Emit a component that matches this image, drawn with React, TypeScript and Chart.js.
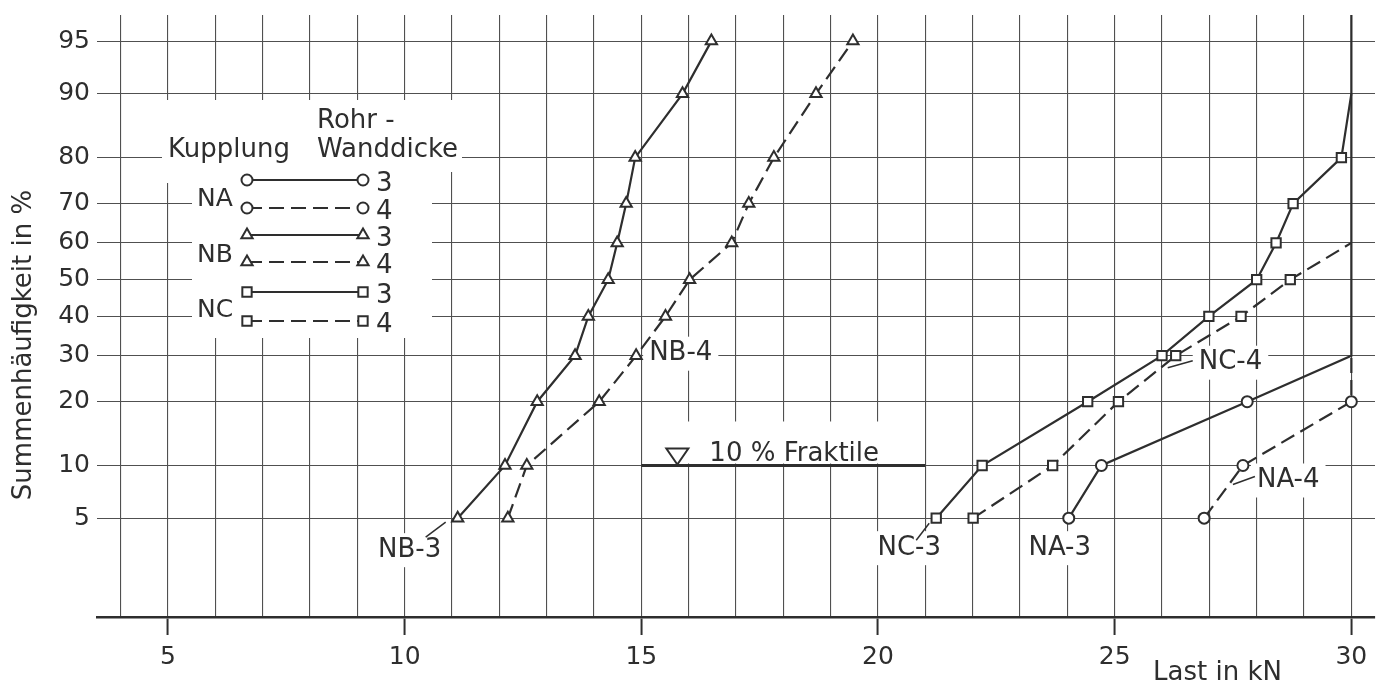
import React, { useEffect, useRef } from "react";
import { Chart, registerables } from "chart.js";

Chart.register(...registerables);

// ---------------- data ----------------
const LOAD_GRID = [4, 5, 6, 7, 8, 9, 10, 11, 12, 13, 14, 15, 16, 17, 18, 19, 20, 21, 22, 23, 24, 25, 26, 27, 28, 29, 30];
const LOAD_LABELS = [5, 10, 15, 20, 25, 30];
const PERCENT_TICKS = [5, 10, 20, 30, 40, 50, 60, 70, 80, 90, 95];
const LOAD_MIN = 3.5;
const LOAD_MAX = 30.5;
const PERCENT_MIN = 1;
const PERCENT_MAX = 96.6;

// NA coupling
const NA3_LOAD = [24.03, 24.72, 27.8, 30, 30];
const NA3_PERCENT = [5, 10, 20, 30, 96.6];
const NA3_MEASURED = 3;
const NA4_LOAD = [26.89, 27.71, 30, 30];
const NA4_PERCENT = [5, 10, 20, 30];
const NA4_MEASURED = 3;
// NB coupling
const NB_PERCENT = [5, 10, 20, 30, 40, 50, 60, 70, 80, 90, 95];
const NB3_LOAD = [11.12, 12.12, 12.8, 13.6, 13.88, 14.3, 14.49, 14.68, 14.87, 15.87, 16.48];
const NB4_LOAD = [12.18, 12.58, 14.11, 14.89, 15.51, 16.02, 16.91, 17.27, 17.8, 18.69, 19.47];
// NC coupling
const NC3_LOAD = [21.23, 22.2, 24.43, 26.0, 26.99, 28.0, 28.41, 28.77, 29.79, 30];
const NC3_PERCENT = [5, 10, 20, 30, 40, 50, 60, 70, 80, 90];
const NC3_MEASURED = 9;
const NC4_LOAD = [22.01, 23.69, 25.08, 26.29, 27.67, 28.71, 30];
const NC4_PERCENT = [5, 10, 20, 30, 40, 50, 60];
const NC4_MEASURED = 6;

// 10 % fractile
const FRACTILE_PERCENT = 10;
const FRACTILE_FROM = 15;
const FRACTILE_TO = 21;

// ---------------- style ----------------
const INK = "#2e2e2e";
const GRID = "#505050";
const FAMILY = "'DejaVu Sans', 'Noto Sans', sans-serif";
const DASH = [15, 7];

// inverse normal CDF (probability paper)
function probit(p: number): number {
  const a = [-3.969683028665376e1, 2.209460984245205e2, -2.759285104469687e2, 1.38357751867269e2, -3.066479806614716e1, 2.506628277459239];
  const b = [-5.447609879822406e1, 1.615858368580409e2, -1.556989798598866e2, 6.680131188771972e1, -1.328068155288572e1];
  const c = [-7.784894002430293e-3, -3.223964580411365e-1, -2.400758277161838, -2.549732539343734, 4.374664141464968, 2.938163982698783];
  const d = [7.784695709041462e-3, 3.224671290700398e-1, 2.445134137142996, 3.754408661907416];
  const pl = 0.02425;
  if (p < pl) {
    const q = Math.sqrt(-2 * Math.log(p));
    return (((((c[0] * q + c[1]) * q + c[2]) * q + c[3]) * q + c[4]) * q + c[5]) / ((((d[0] * q + d[1]) * q + d[2]) * q + d[3]) * q + 1);
  }
  if (p > 1 - pl) {
    const q = Math.sqrt(-2 * Math.log(1 - p));
    return -(((((c[0] * q + c[1]) * q + c[2]) * q + c[3]) * q + c[4]) * q + c[5]) / ((((d[0] * q + d[1]) * q + d[2]) * q + d[3]) * q + 1);
  }
  const q = p - 0.5;
  const r = q * q;
  return ((((((a[0] * r + a[1]) * r + a[2]) * r + a[3]) * r + a[4]) * r + a[5]) * q) / (((((b[0] * r + b[1]) * r + b[2]) * r + b[3]) * r + b[4]) * r + 1);
}
const z = (percent: number) => probit(percent / 100);

type Series = {
  group: string;
  wall: string;
  load: number[];
  percent: number[];
  measured: number;
  marker: "circle" | "triangle" | "rect";
  radius: number;
  dashed: boolean;
};

const SERIES: Series[] = [
  { group: "NA", wall: "3", load: NA3_LOAD, percent: NA3_PERCENT, measured: NA3_MEASURED, marker: "circle", radius: 5.5, dashed: false },
  { group: "NA", wall: "4", load: NA4_LOAD, percent: NA4_PERCENT, measured: NA4_MEASURED, marker: "circle", radius: 5.5, dashed: true },
  { group: "NB", wall: "3", load: NB3_LOAD, percent: NB_PERCENT, measured: NB_PERCENT.length, marker: "triangle", radius: 6.5, dashed: false },
  { group: "NB", wall: "4", load: NB4_LOAD, percent: NB_PERCENT, measured: NB_PERCENT.length, marker: "triangle", radius: 6.5, dashed: true },
  { group: "NC", wall: "3", load: NC3_LOAD, percent: NC3_PERCENT, measured: NC3_MEASURED, marker: "rect", radius: 6.6, dashed: false },
  { group: "NC", wall: "4", load: NC4_LOAD, percent: NC4_PERCENT, measured: NC4_MEASURED, marker: "rect", radius: 6.6, dashed: true },
];

type Label = { text: string; s: number; i: number; dx: number; dy: number; align: "left" | "center"; leader?: number[] };
const LABELS: Label[] = [
  { text: "NB-3", s: 2, i: 0, dx: -48, dy: 32, align: "center", leader: [-32, 19, -12, 4] },
  { text: "NB-4", s: 3, i: 3, dx: 13, dy: -2, align: "left" },
  { text: "NC-4", s: 5, i: 3, dx: 23, dy: 7, align: "left", leader: [-8, 12, 17, 5] },
  { text: "NC-3", s: 4, i: 0, dx: -27, dy: 30, align: "center", leader: [-20, 22, -7, 5] },
  { text: "NA-3", s: 0, i: 0, dx: -9, dy: 30, align: "center" },
  { text: "NA-4", s: 1, i: 1, dx: 14, dy: 15, align: "left", leader: [-10, 19, 12, 11] },
];

const LEGEND_MASK = [
  [162, 100], [462, 100], [462, 172], [432, 172], [432, 338], [192, 338], [192, 183], [162, 183],
];
const LEGEND_ROWS_Y = [180, 208, 235, 262, 292, 321];

function drawMarker(ctx: CanvasRenderingContext2D, style: string, x: number, y: number, r: number) {
  ctx.save();
  ctx.setLineDash([]);
  ctx.fillStyle = "#fff";
  ctx.strokeStyle = INK;
  ctx.lineWidth = 2;
  ctx.beginPath();
  if (style === "circle") {
    ctx.arc(x, y, r, 0, Math.PI * 2);
  } else if (style === "triangle") {
    const h = r * 0.5;
    ctx.moveTo(x, y - r);
    ctx.lineTo(x + r * Math.sin(Math.PI / 3), y + h);
    ctx.lineTo(x - r * Math.sin(Math.PI / 3), y + h);
    ctx.closePath();
  } else {
    const s = r * Math.SQRT1_2;
    ctx.rect(x - s, y - s, 2 * s, 2 * s);
  }
  ctx.fill();
  ctx.stroke();
  ctx.restore();
}

function labelGeom(chart: any, ctx: CanvasRenderingContext2D, l: Label) {
  const s = SERIES[l.s];
  const ax = chart.scales.x.getPixelForValue(s.load[l.i]);
  const ay = chart.scales.y.getPixelForValue(z(s.percent[l.i]));
  ctx.font = `26px ${FAMILY}`;
  const w = ctx.measureText(l.text).width;
  const left = l.align === "center" ? ax + l.dx - w / 2 : ax + l.dx;
  return { ax, ay, left, cy: ay + l.dy, w };
}

const drawingPlugin = {
  id: "drawing",
  beforeDatasetsDraw(chart: any) {
    const ctx: CanvasRenderingContext2D = chart.ctx;
    const xs = chart.scales.x;
    const ys = chart.scales.y;
    ctx.save();
    ctx.fillStyle = "#fff";
    ctx.beginPath();
    LEGEND_MASK.forEach(([x, y], i) => (i ? ctx.lineTo(x, y) : ctx.moveTo(x, y)));
    ctx.closePath();
    ctx.fill();
    const fy = ys.getPixelForValue(z(FRACTILE_PERCENT));
    const f0 = xs.getPixelForValue(FRACTILE_FROM);
    const f1 = xs.getPixelForValue(FRACTILE_TO);
    ctx.fillRect(f0 + 3, fy - 44, f1 - f0 - 6, 42);
    for (const l of LABELS) {
      const g = labelGeom(chart, ctx, l);
      ctx.fillStyle = "#fff";
      ctx.fillRect(g.left - 6, g.cy - 17, g.w + 12, 34);
    }
    ctx.restore();
  },
  afterDraw(chart: any) {
    const ctx: CanvasRenderingContext2D = chart.ctx;
    const xs = chart.scales.x;
    const ys = chart.scales.y;
    ctx.save();
    ctx.fillStyle = INK;
    ctx.strokeStyle = INK;

    // fractile
    const fy = ys.getPixelForValue(z(FRACTILE_PERCENT));
    const f0 = xs.getPixelForValue(FRACTILE_FROM);
    const f1 = xs.getPixelForValue(FRACTILE_TO);
    ctx.lineWidth = 3;
    ctx.beginPath();
    ctx.moveTo(f0, fy);
    ctx.lineTo(f1, fy);
    ctx.stroke();
    const tx = f0 + 36;
    ctx.lineWidth = 2;
    ctx.beginPath();
    ctx.moveTo(tx, fy - 1);
    ctx.lineTo(tx - 11, fy - 17);
    ctx.lineTo(tx + 11, fy - 17);
    ctx.closePath();
    ctx.stroke();
    ctx.font = `26px ${FAMILY}`;
    ctx.textAlign = "left";
    ctx.textBaseline = "alphabetic";
    ctx.fillText("10 % Fraktile", f0 + 68, fy - 4);

    // labels
    for (const l of LABELS) {
      const g = labelGeom(chart, ctx, l);
      ctx.textBaseline = "middle";
      ctx.textAlign = "left";
      ctx.fillText(l.text, g.left, g.cy);
      if (l.leader) {
        ctx.lineWidth = 1.5;
        ctx.beginPath();
        ctx.moveTo(g.ax + l.leader[0], g.ay + l.leader[1]);
        ctx.lineTo(g.ax + l.leader[2], g.ay + l.leader[3]);
        ctx.stroke();
      }
    }

    // legend
    ctx.textBaseline = "alphabetic";
    ctx.textAlign = "left";
    ctx.font = `26px ${FAMILY}`;
    ctx.fillText("Rohr -", 317, 128);
    ctx.fillText("Kupplung", 168, 157);
    ctx.fillText("Wanddicke", 317, 157);
    const groupY: Record<string, number> = { NA: 206, NB: 262, NC: 317 };
    ctx.font = `25px ${FAMILY}`;
    Object.keys(groupY).forEach((k) => ctx.fillText(k, 197, groupY[k]));
    SERIES.forEach((s, i) => {
      const y = LEGEND_ROWS_Y[i];
      ctx.lineWidth = 2.2;
      ctx.setLineDash(s.dashed ? DASH : []);
      ctx.beginPath();
      ctx.moveTo(247, y);
      ctx.lineTo(363, y);
      ctx.stroke();
      ctx.setLineDash([]);
      drawMarker(ctx, s.marker, 247, y, s.radius);
      drawMarker(ctx, s.marker, 363, y, s.radius);
      ctx.fillStyle = INK;
      ctx.font = `26px ${FAMILY}`;
      ctx.fillText(s.wall, 376, y + 11);
    });

    // axis titles
    ctx.font = `26px ${FAMILY}`;
    ctx.fillText("Last in kN", 1153, 680);
    ctx.save();
    ctx.translate(31, 345);
    ctx.rotate(-Math.PI / 2);
    ctx.textAlign = "center";
    ctx.fillText("Summenhäufigkeit in %", 0, 0);
    ctx.restore();

    ctx.restore();
  },
};

export default function App() {
  const ref = useRef<HTMLCanvasElement>(null);
  useEffect(() => {
    const canvas = ref.current;
    if (!canvas) return;
    const datasets = SERIES.map((s) => ({
      label: `${s.group}-${s.wall}`,
      data: s.load.map((x, i) => ({ x, y: z(s.percent[i]) })),
      showLine: true,
      borderColor: INK,
      borderWidth: 2.2,
      borderDash: s.dashed ? DASH : [],
      tension: 0,
      fill: false,
      pointStyle: s.marker,
      pointRadius: s.load.map((_, i) => (i < s.measured ? s.radius : 0)),
      pointBackgroundColor: "#fff",
      pointBorderColor: INK,
      pointBorderWidth: 2,
    }));
    const tickFont = { family: FAMILY, size: 25 };
    const chart = new Chart(canvas, {
      type: "scatter",
      data: { datasets },
      plugins: [drawingPlugin],
      options: {
        animation: false,
        responsive: true,
        maintainAspectRatio: false,
        layout: { padding: { top: 15, right: 12, bottom: 0, left: 0 } },
        plugins: { legend: { display: false }, tooltip: { enabled: false } },
        events: [],
        scales: {
          x: {
            type: "linear",
            min: LOAD_MIN,
            max: LOAD_MAX,
            afterBuildTicks: (s: any) => {
              s.ticks = LOAD_GRID.map((v) => ({ value: v }));
            },
            afterFit: (s: any) => {
              s.height = 68;
              s.paddingLeft = 0;
              s.paddingRight = 0;
            },
            ticks: {
              autoSkip: false,
              maxRotation: 0,
              padding: 7,
              color: INK,
              font: tickFont,
              callback: (v: any) => (LOAD_LABELS.includes(Number(v)) ? String(v) : ""),
            },
            grid: {
              color: GRID,
              lineWidth: 1.1,
              tickLength: 18,
              tickWidth: 2,
              tickColor: (c: any) => (c.tick && LOAD_LABELS.includes(c.tick.value) ? INK : "rgba(0,0,0,0)"),
            },
            border: { display: true, color: INK, width: 2.6 },
          },
          y: {
            type: "linear",
            min: z(PERCENT_MIN),
            max: z(PERCENT_MAX),
            afterBuildTicks: (s: any) => {
              s.ticks = PERCENT_TICKS.map((p) => ({ value: z(p) }));
            },
            afterFit: (s: any) => {
              s.width = 97;
              s.paddingTop = 0;
              s.paddingBottom = 0;
            },
            ticks: {
              autoSkip: false,
              padding: 7,
              color: INK,
              font: tickFont,
              callback: (_v: any, i: number) => String(PERCENT_TICKS[i]),
            },
            grid: { color: GRID, lineWidth: 1.1, drawTicks: false },
            border: { display: false },
          },
        },
      } as any,
    });
    return () => chart.destroy();
  }, []);
  return (
    <div style={{ position: "fixed", left: 0, top: 0, width: "100vw", height: "100vh", background: "#fff" }}>
      <canvas ref={ref} />
    </div>
  );
}
